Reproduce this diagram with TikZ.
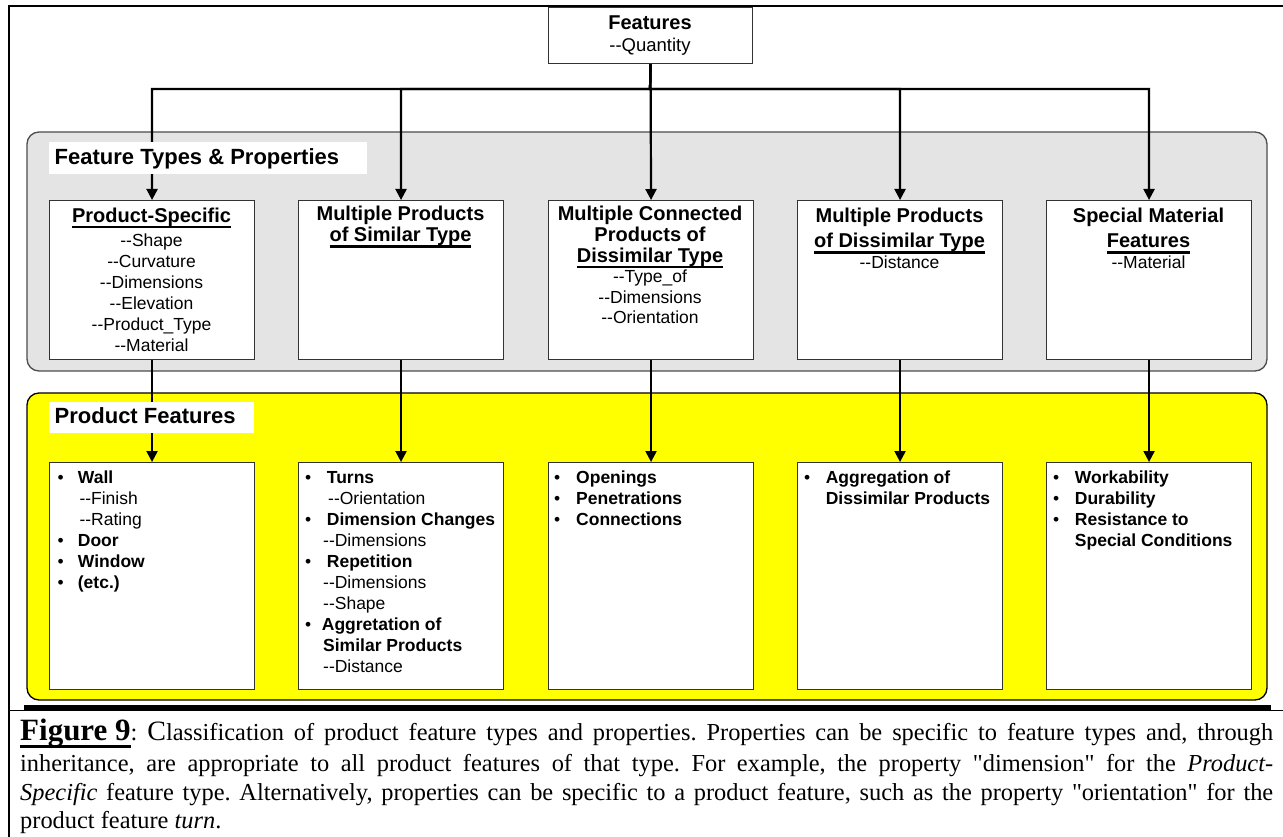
\documentclass[tikz,border=0pt]{standalone}
\usepackage{fontspec}
\setmainfont{Liberation Sans}
\newfontfamily\capfont{Liberation Serif}
\usetikzlibrary{arrows.meta}
\definecolor{panelgray}{RGB}{228,228,228}
\definecolor{panelyellow}{RGB}{255,255,0}
\newcommand\ulx[3]{\leavevmode\setbox0\hbox{#3}\rlap{\rule[#1]{\wd0}{#2}}\box0}
\newcommand\uline[1]{\ulx{-5.7pt}{2.2pt}{#1}}
\newcommand\ttl[1]{{\bfseries\fontsize{20}{21}\selectfont #1}}
\newcommand\dsh{-{}-}
\frenchspacing
\begin{document}
\begin{tikzpicture}[x=1pt,y=-1pt,
  fbox/.style={draw=black!80, line width=1.1pt, fill=white, minimum width=205pt,
    minimum height=159pt, inner sep=0pt, anchor=north west},
  pbox/.style={fbox, minimum height=227pt},
  conn/.style={line width=2.2pt, -{Triangle[width=11pt,length=11pt]}},
  panel/.style={line width=1.3pt, rounded corners=12pt},
  labbox/.style={fill=white, inner sep=0pt, anchor=north west},
  labtxt/.style={anchor=base west, inner sep=0pt, font=\bfseries\fontsize{22}{26}\selectfont},
  ftxt/.style={anchor=base, inner sep=0pt, font=\fontsize{17.5}{21}\selectfont},
  ftxtb/.style={anchor=base, inner sep=0pt, font=\fontsize{17.5}{20.5}\selectfont},
  ptxt/.style={anchor=base west, inner sep=0pt, font=\fontsize{17.5}{21}\selectfont},
  captxt/.style={anchor=base west, inner sep=0pt, font=\capfont\frenchspacing\fontsize{24.4}{29}\selectfont}
]
\useasboundingbox (0,0) rectangle (1283,837);
\fill[white] (0,0) rectangle (1283,837);

% frame
\draw[line width=2pt] (9,837) -- (9,6) -- (1283,6);
\draw[line width=1.5pt] (9,710.5) -- (1283,710.5);
\fill[black] (24,704.5) rectangle (1271,710);

% panels
\draw[panel, draw=black!70, fill=panelgray] (27,132) rectangle (1267,371);
\draw[panel, draw=black, fill=panelyellow] (27,393) rectangle (1267,700);

% top box
\node[fbox, minimum width=204pt, minimum height=56pt] (top) at (548,7) {};
\node[anchor=base, inner sep=0pt, font=\bfseries\fontsize{20}{24}\selectfont] (toptitle) at (650,30) {Features};
\node[anchor=base, inner sep=0pt, font=\fontsize{18.5}{22}\selectfont] (topprop) at (650,52) {\dsh Quantity};

% feature type boxes
\node[fbox] (f1) at (49,200) {};
\node[fbox] (f2) at (298,200) {};
\node[fbox] (f3) at (548,200) {};
\node[fbox] (f4) at (797,200) {};
\node[fbox] (f5) at (1046,200) {};

% product boxes
\node[pbox] (p1) at (49,462) {};
\node[pbox] (p2) at (298,462) {};
\node[pbox] (p3) at (548,462) {};
\node[pbox] (p4) at (797,462) {};
\node[pbox] (p5) at (1046,462) {};

% connectors
\coordinate (bus) at (650,89);
\draw[conn] (top.south) -- (bus) -| (f1.north);
\draw[conn] (top.south) -- (bus) -| (f2.north);
\draw[conn] (top.south) -- (f3.north);
\draw[conn] (top.south) -- (bus) -| (f4.north);
\draw[conn] (top.south) -- (bus) -| (f5.north);
\draw[conn] (f1.south) -- (p1.north);
\draw[conn] (f2.south) -- (p2.north);
\draw[conn] (f3.south) -- (p3.north);
\draw[conn] (f4.south) -- (p4.north);
\draw[conn] (f5.south) -- (p5.north);

% panel labels
\node[labbox, minimum width=318pt, minimum height=32pt] (lab1) at (49,142) {};
\node[labtxt] (lab1t) at (54.5,165) {Feature Types \& Properties};
\node[labbox, minimum width=205pt, minimum height=31pt] (lab2) at (49,402) {};
\node[labtxt] (lab2t) at (54.5,423) {Product Features};

% feature type texts
\node[ftxt] (t1) at (151.5,222.5) {\begin{tabular}[t]{@{}c@{}}
\ttl{\uline{Product-Specific}}\\[3.2pt]
\dsh Shape\\ \dsh Curvature\\ \dsh Dimensions\\ \dsh Elevation\\ \dsh Product\_Type\\ \dsh Material
\end{tabular}};
\node[ftxt] (t2) at (400.5,221) {\begin{tabular}[t]{@{}c@{}}
\ttl{Multiple Products}\\ \ttl{\uline{of Similar Type}}
\end{tabular}};
\node[ftxtb] (t3) at (650,221) {\begin{tabular}[t]{@{}c@{}}
\ttl{Multiple Connected}\\ \ttl{Products of}\\ \ttl{\uline{Dissimilar Type}}\\
\dsh Type\_of\\ \dsh Dimensions\\ \dsh Orientation
\end{tabular}};
\node[ftxt] (t4) at (899.5,223) {\begin{tabular}[t]{@{}c@{}}
\ttl{Multiple Products}\\[4pt] \ttl{\uline{of Dissimilar Type}}\\ \dsh Distance
\end{tabular}};
\node[ftxt] (t5) at (1148.5,223) {\begin{tabular}[t]{@{}c@{}}
\ttl{Special Material}\\[4pt] \ttl{\uline{Features}}\\ \dsh Material
\end{tabular}};

% product feature texts
\node[ptxt] (l1) at (57.5,483.3) {\begin{tabular}[t]{@{}l@{}}
\makebox[20.2pt][l]{\textbullet}\textbf{Wall}\\
\hspace*{21.8pt}\dsh Finish\\
\hspace*{21.8pt}\dsh Rating\\
\makebox[20.2pt][l]{\textbullet}\textbf{Door}\\
\makebox[20.2pt][l]{\textbullet}\textbf{Window}\\
\makebox[20.2pt][l]{\textbullet}\textbf{(etc.)}
\end{tabular}};
\node[ptxt] (l2) at (305,483) {\begin{tabular}[t]{@{}l@{}}
\makebox[21.7pt][l]{\textbullet}\textbf{Turns}\\
\hspace*{23pt}\dsh Orientation\\
\makebox[21.7pt][l]{\textbullet}\textbf{Dimension Changes}\\
\hspace*{18pt}\dsh Dimensions\\
\makebox[21.7pt][l]{\textbullet}\textbf{Repetition}\\
\hspace*{18pt}\dsh Dimensions\\
\hspace*{18pt}\dsh Shape\\
\makebox[16.7pt][l]{\textbullet}\textbf{Aggretation of}\\
\hspace*{18pt}\textbf{Similar Products}\\
\hspace*{18pt}\dsh Distance
\end{tabular}};
\node[ptxt] (l3) at (554,483) {\begin{tabular}[t]{@{}l@{}}
\makebox[22pt][l]{\textbullet}\textbf{Openings}\\
\makebox[22pt][l]{\textbullet}\textbf{Penetrations}\\
\makebox[22pt][l]{\textbullet}\textbf{Connections}
\end{tabular}};
\node[ptxt] (l4) at (804,483) {\begin{tabular}[t]{@{}l@{}}
\makebox[21.6pt][l]{\textbullet}\textbf{Aggregation of}\\
\hspace*{21.6pt}\textbf{Dissimilar Products}
\end{tabular}};
\node[ptxt] (l5) at (1053,483) {\begin{tabular}[t]{@{}l@{}}
\makebox[21.7pt][l]{\textbullet}\textbf{Workability}\\
\makebox[21.7pt][l]{\textbullet}\textbf{Durability}\\
\makebox[21.7pt][l]{\textbullet}\textbf{Resistance to}\\
\hspace*{21.7pt}\textbf{Special Conditions}
\end{tabular}};

% caption
\node[captxt] (c1) at (20,740) {\makebox[1253pt][s]{{\fontsize{31}{31}\selectfont\bfseries\ulx{-7.5pt}{2.5pt}{Figure 9}}: {\fontsize{28}{29}\selectfont C}lassification of product feature types and properties. Properties can be specific to feature types and, through}};
\node[captxt] (c2) at (20,771) {\makebox[1253pt][s]{inheritance, are appropriate to all product features of that type. For example, the property "dimension" for the \textit{Product-}}};
\node[captxt] (c3) at (20,800) {\makebox[1253pt][s]{\textit{Specific} feature type. Alternatively, properties can be specific to a product feature, such as the property "orientation" for the}};
\node[captxt] (c4) at (20,828) {product feature \textit{turn}.};
\end{tikzpicture}
\end{document}
